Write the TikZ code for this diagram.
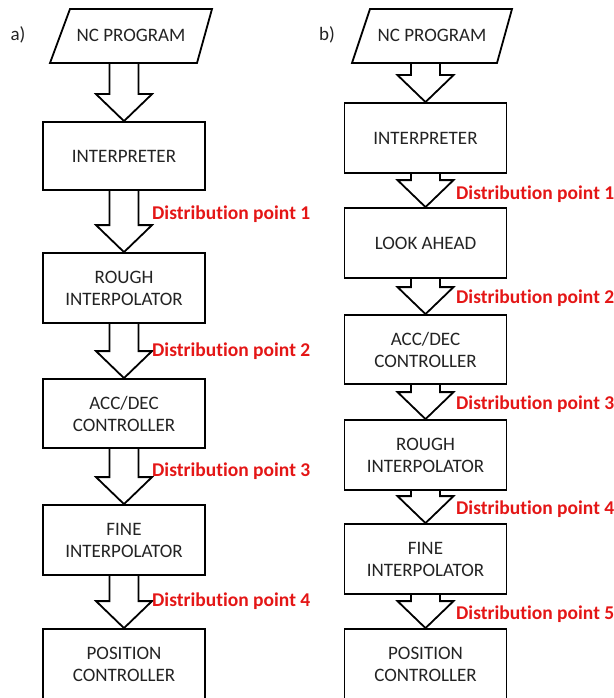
\documentclass[tikz,border=0pt]{standalone}
\usepackage{fontspec}
\setmainfont[Ligatures=NoCommon]{Carlito}
\usetikzlibrary{calc}
\definecolor{dpred}{RGB}{228,22,22}
\definecolor{txt}{RGB}{35,35,35}
\newcommand{\blkarrow}[2]{%
  \draw[arrline] let \p1=#1, \p2=#2 in
    (\x1-14.5pt,\y1) -- (\x1-14.5pt,\y2+27pt) -- (\x1-28pt,\y2+27pt) -- (\x2,\y2)
    -- (\x1+28pt,\y2+27pt) -- (\x1+14.5pt,\y2+27pt) -- (\x1+14.5pt,\y1);}
\begin{document}
\begin{tikzpicture}[x=1pt,y=-1pt,
  box/.style={draw=black,line width=1.8pt,minimum width=162pt,inner sep=0pt,
    align=center,text=txt,font=\fontsize{19}{22}\selectfont},
  arrline/.style={draw=black,line width=1.8pt,line join=miter},
  dp/.style={anchor=west,text=dpred,inner sep=0pt,font=\fontsize{19.5}{22}\selectfont\bfseries},
  lbl/.style={text=txt,inner sep=0pt,font=\fontsize{19}{22}\selectfont},
  para/.style={draw=black,line width=1.8pt,line join=miter}]
\useasboundingbox (0,0) rectangle (613,698);
\begin{scope}
\clip (0,0) rectangle (613,698);
% ---------- a) ----------
\node[lbl] (la) at (18,35) {a)};
\draw[para] (70,9) -- (212,9) -- (197,63) -- (50,63) -- cycle;
\node[lbl] (ncA) at (131,35) {NC PROGRAM};
\coordinate (ncAs) at (124,63);
\node[box,minimum height=68pt] (intA) at (124,156) {INTERPRETER};
\node[box,minimum height=70pt] (rouA) at (124,288) {ROUGH\\INTERPOLATOR};
\node[box,minimum height=69pt] (accA) at (124,413.5) {ACC/DEC\\CONTROLLER};
\node[box,minimum height=70pt] (finA) at (124,540) {FINE\\INTERPOLATOR};
\node[box,minimum height=70pt] (posA) at (124,664) {POSITION\\CONTROLLER};
\blkarrow{(ncAs)}{(intA.north)}
\blkarrow{(intA.south)}{(rouA.north)}
\blkarrow{(rouA.south)}{(accA.north)}
\blkarrow{(accA.south)}{(finA.north)}
\blkarrow{(finA.south)}{(posA.north)}
\node[dp] (dA1) at (152,214) {Distribution point 1};
\node[dp] (dA2) at (152,351) {Distribution point 2};
\node[dp] (dA3) at (152,471) {Distribution point 3};
\node[dp] (dA4) at (152,601) {Distribution point 4};
% ---------- b) ----------
\node[lbl] (lb) at (327,35) {b)};
\draw[para] (370,9) -- (512,9) -- (497,63) -- (352,63) -- cycle;
\node[lbl] (ncB) at (432,35) {NC PROGRAM};
\coordinate (ncBs) at (425.5,63);
\node[box,minimum height=70pt] (intB) at (425.5,138) {INTERPRETER};
\node[box,minimum height=70pt] (lookB) at (425.5,243) {LOOK AHEAD};
\node[box,minimum height=69pt] (accB) at (425.5,349.5) {ACC/DEC\\CONTROLLER};
\node[box,minimum height=70pt] (rouB) at (425.5,455) {ROUGH\\INTERPOLATOR};
\node[box,minimum height=70pt] (finB) at (425.5,559) {FINE\\INTERPOLATOR};
\node[box,minimum height=70pt] (posB) at (425.5,664) {POSITION\\CONTROLLER};
\blkarrow{(ncBs)}{(intB.north)}
\blkarrow{(intB.south)}{(lookB.north)}
\blkarrow{(lookB.south)}{(accB.north)}
\blkarrow{(accB.south)}{(rouB.north)}
\blkarrow{(rouB.south)}{(finB.north)}
\blkarrow{(finB.south)}{(posB.north)}
\node[dp] (dB1) at (456,194) {Distribution point 1};
\node[dp] (dB2) at (456,298) {Distribution point 2};
\node[dp] (dB3) at (456,404) {Distribution point 3};
\node[dp] (dB4) at (456,509) {Distribution point 4};
\node[dp] (dB5) at (456,614) {Distribution point 5};
\end{scope}
\end{tikzpicture}
\end{document}
